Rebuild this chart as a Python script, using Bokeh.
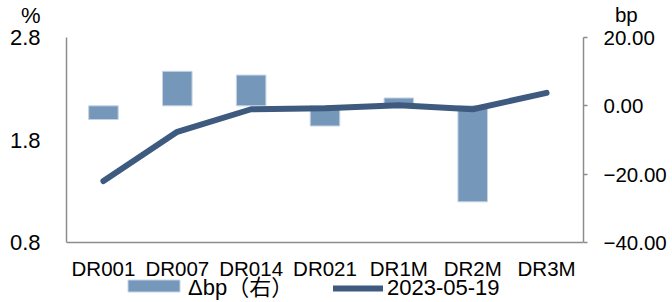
from bokeh.plotting import figure
from bokeh.models import (FactorRange, Range1d, LinearAxis, FixedTicker,
                          Legend, LegendItem, Span)
from bokeh.embed import file_html
from bokeh.resources import INLINE

categories = ["DR001", "DR007", "DR014", "DR021", "DR1M", "DR2M", "DR3M"]
rate_2023_05_19 = [1.40, 1.88, 2.10, 2.11, 2.14, 2.10, 2.26]
change_bp = [-4.0, 10.1, 9.0, -5.9, 2.3, -28.1, float("nan")]
left_ticks = [0.8, 1.8, 2.8]
left_tick_labels = ["0.8", "1.8", "2.8"]
right_ticks = [-40, -20, 0, 20]
right_tick_labels = ["\u221240.00", "\u221220.00", "0.00", "20.00"]
series_names = ["\u0394bp\uff08\u53f3\uff09", "2023-05-19"]
left_unit = "%"
right_unit = "bp"

FONT = "Liberation Sans, Arial, Noto Sans CJK SC, sans-serif"
AXIS_GRAY = "#8c8c8c"
BAR_COLOR = "#7597ba"
LINE_COLOR = "#3e5a7f"

# layout (pixels): the data area spans AREA_TOP..AREA_BOTTOM of the canvas,
# the frame covers the full height so that legend and labels stay inside it
W, H = 672, 302
AREA_TOP, AREA_BOTTOM = 37, 242

def padded_range(lo, hi):
    ppu = (AREA_BOTTOM - AREA_TOP) / (hi - lo)
    return Range1d(lo - (H - AREA_BOTTOM) / ppu, hi + AREA_TOP / ppu)

p = figure(width=W, height=H,
           x_range=FactorRange(*categories),
           y_range=padded_range(left_ticks[0], left_ticks[-1]),
           x_axis_location=None,
           output_backend="svg", toolbar_location=None,
           min_border_left=66, min_border_right=89,
           min_border_top=0, min_border_bottom=0)
p.outline_line_color = None
p.grid.visible = False
p.background_fill_color = "white"
p.border_fill_color = "white"

p.extra_y_ranges = {"bp": padded_range(right_ticks[0], right_ticks[-1])}

bars = p.vbar(x=categories, top=change_bp, bottom=0, width=0.4,
              y_range_name="bp", fill_color=BAR_COLOR,
              line_color="#c5d4e4", line_width=1)
line = p.line(x=categories, y=rate_2023_05_19, line_width=6,
              line_color=LINE_COLOR, line_cap="round", line_join="round")

# bottom axis line and category labels
p.add_layout(Span(location=left_ticks[0], dimension="width",
                  line_color=AXIS_GRAY, line_width=1.5))
p.text(x=categories, y=[left_ticks[0]] * len(categories), text=categories,
       text_align="center", text_baseline="middle", y_offset=26,
       text_font={"value": FONT}, text_font_size="20.5px", text_color="black")

# left axis (unit "%" printed above the top tick label)
left_labels = list(left_tick_labels)
left_labels[-1] = left_unit + "\n" + left_labels[-1] + "\n\u00a0"
ya = p.yaxis[0]
ya.ticker = FixedTicker(ticks=left_ticks)
ya.bounds = (left_ticks[0], left_ticks[-1])
ya.major_label_overrides = dict(zip(left_ticks, left_labels))
ya.axis_line_color = AXIS_GRAY
ya.axis_line_width = 1.5
ya.major_tick_line_color = None
ya.minor_tick_line_color = None
ya.major_tick_out = 0
ya.major_tick_in = 0
ya.major_label_standoff = 26
ya.major_label_text_font = FONT
ya.major_label_text_font_size = "22px"
ya.major_label_text_line_height = 0.9
ya.major_label_text_color = "black"

# right axis (unit "bp" printed above the top tick label)
right_labels = list(right_tick_labels)
right_labels[-1] = "\u00a0\u00a0" + right_unit + "\n" + right_labels[-1] + "\n\u00a0"
ra = LinearAxis(y_range_name="bp", ticker=FixedTicker(ticks=right_ticks),
                bounds=(right_ticks[0], right_ticks[-1]),
                major_label_overrides=dict(zip(right_ticks, right_labels)))
ra.axis_line_color = AXIS_GRAY
ra.axis_line_width = 1.5
ra.major_tick_line_color = AXIS_GRAY
ra.major_tick_line_width = 1.5
ra.major_tick_out = 4
ra.major_tick_in = 0
ra.minor_tick_line_color = None
ra.major_label_standoff = 16
ra.major_label_text_font = FONT
ra.major_label_text_font_size = "20.5px"
ra.major_label_text_line_height = 1.0
ra.major_label_text_color = "black"
p.add_layout(ra, "right")

legend_style = dict(orientation="horizontal", padding=0, margin=0,
                    border_line_color=None, background_fill_alpha=0,
                    label_text_font=FONT, label_text_font_size="22px",
                    label_text_color="black")
# bar swatches are drawn inset by 10% on each side, hence the larger glyph box
legend_bar = Legend(items=[LegendItem(label=series_names[0], renderers=[bars])],
                    location=(55, 1), glyph_width=65, glyph_height=15,
                    label_standoff=2, **legend_style)
legend_line = Legend(items=[LegendItem(label=series_names[1], renderers=[line])],
                     location=(267, 1), glyph_width=50, glyph_height=12,
                     label_standoff=4, **legend_style)
p.add_layout(legend_bar, "center")
p.add_layout(legend_line, "center")

open("out.html", "w").write(file_html(p, INLINE))
